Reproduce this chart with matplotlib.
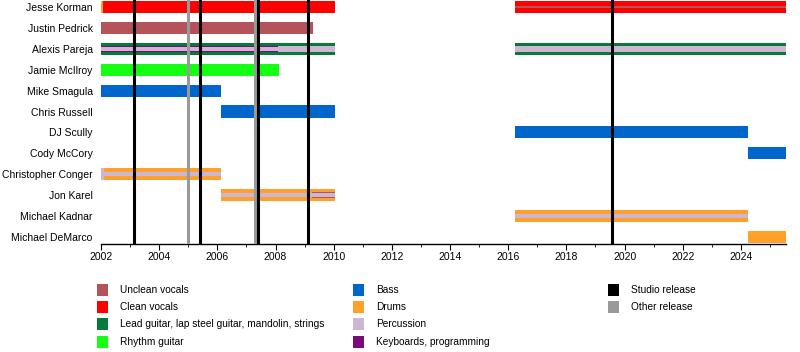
import matplotlib.pyplot as plt
from matplotlib.patches import Rectangle
from matplotlib.ticker import MultipleLocator

plt.rcParams['font.family'] = ['Liberation Sans', 'DejaVu Sans']

END = 2025.55

members = ['Jesse Korman', 'Justin Pedrick', 'Alexis Pareja', 'Jamie McIlroy',
           'Mike Smagula', 'Chris Russell', 'DJ Scully', 'Cody McCory',
           'Christopher Conger', 'Jon Karel', 'Michael Kadnar', 'Michael DeMarco']

role_colors = {
    'Unclean vocals': '#b5535b',
    'Clean vocals': '#ff0000',
    'Lead guitar, lap steel guitar, mandolin, strings': '#067a3b',
    'Rhythm guitar': '#14ff14',
    'Bass': '#0066cc',
    'Drums': '#ffa02a',
    'Percussion': '#cdb6d2',
    'Keyboards, programming': '#7a0a7a',
}
release_colors = {'Studio release': '#000000', 'Other release': '#999999'}

# (member, role, start, end, layer) layer: 0 full bar, 1 medium stripe, 2 thin stripe
periods = [
    ('Jesse Korman', 'Clean vocals', 2002.0, 2010.03, 0),
    ('Jesse Korman', 'Drums', 2002.0, 2002.08, 0),
    ('Jesse Korman', 'Clean vocals', 2016.24, END, 0),
    ('Jesse Korman', 'Unclean vocals', 2016.24, END, 3),
    ('Justin Pedrick', 'Unclean vocals', 2002.0, 2009.28, 0),
    ('Alexis Pareja', 'Lead guitar, lap steel guitar, mandolin, strings', 2002.0, 2010.03, 0),
    ('Alexis Pareja', 'Percussion', 2008.07, 2010.03, 1),
    ('Alexis Pareja', 'Keyboards, programming', 2002.0, 2008.07, 1),
    ('Alexis Pareja', 'Percussion', 2002.0, 2008.07, 2),
    ('Alexis Pareja', 'Lead guitar, lap steel guitar, mandolin, strings', 2016.24, END, 0),
    ('Alexis Pareja', 'Percussion', 2016.24, END, 1),
    ('Jamie McIlroy', 'Rhythm guitar', 2002.0, 2008.11, 0),
    ('Mike Smagula', 'Bass', 2002.0, 2006.12, 0),
    ('Chris Russell', 'Bass', 2006.12, 2010.03, 0),
    ('DJ Scully', 'Bass', 2016.24, 2024.24, 0),
    ('Cody McCory', 'Bass', 2024.24, END, 0),
    ('Christopher Conger', 'Drums', 2002.0, 2006.12, 0),
    ('Christopher Conger', 'Percussion', 2002.0, 2002.12, 0),
    ('Christopher Conger', 'Percussion', 2002.0, 2006.12, 2),
    ('Jon Karel', 'Drums', 2006.12, 2010.03, 0),
    ('Jon Karel', 'Unclean vocals', 2009.24, 2010.03, 1),
    ('Jon Karel', 'Percussion', 2006.12, 2010.03, 2),
    ('Michael Kadnar', 'Drums', 2016.24, 2024.24, 0),
    ('Michael Kadnar', 'Percussion', 2016.24, 2024.24, 2),
    ('Michael DeMarco', 'Drums', 2024.24, END, 0),
]

studio_releases = [2003.13, 2005.40, 2007.39, 2009.10, 2019.57]
other_releases = [2004.99, 2007.30]

heights = {0: 0.58, 1: 0.30, 2: 0.18, 3: 0.12}

fig = plt.figure(figsize=(8, 3.52), dpi=100)
ax = fig.add_axes([0.12625, 0.3068, 0.85625, 0.6932])

for name, role, start, stop, layer in periods:
    y = members.index(name)
    ax.barh(y, stop - start, left=start, height=heights[layer],
            color=role_colors[role], linewidth=0, zorder=2 + layer)

for x in other_releases:
    ax.axvline(x, color=release_colors['Other release'], lw=2.2, zorder=10)
for x in studio_releases:
    ax.axvline(x, color=release_colors['Studio release'], lw=2.2, zorder=10)

ax.set_xlim(2002, END)
ax.set_ylim(11.34, -0.335)
ax.set_yticks(range(len(members)))
ax.set_yticklabels(members, fontsize=7.5)
ax.tick_params(axis='y', length=0, pad=6)
ax.xaxis.set_major_locator(MultipleLocator(2))
ax.xaxis.set_minor_locator(MultipleLocator(1))
ax.tick_params(axis='x', which='major', length=4, labelsize=7.5, pad=2)
ax.tick_params(axis='x', which='minor', length=2)
for s in ['top', 'right', 'left']:
    ax.spines[s].set_visible(False)
ax.spines['bottom'].set_linewidth(1.0)

# legend
legend_items = list(role_colors.items()) + list(release_colors.items())
col_x = [97, 353, 608]
row_y = [290, 307, 324, 342]
for i, (label, color) in enumerate(legend_items):
    if i < 4:
        c, r = 0, i
    elif i < 8:
        c, r = 1, i - 4
    else:
        c, r = 2, i - 8
    x0 = col_x[c] / 800
    y0 = 1 - row_y[r] / 352
    fig.add_artist(Rectangle((x0, y0 - 6 / 352), 11 / 800, 12 / 352,
                             transform=fig.transFigure, color=color, lw=0))
    fig.text(x0 + 23 / 800, y0, label, fontsize=7.3, va='center', ha='left')

fig.savefig('out.png', dpi=100)
